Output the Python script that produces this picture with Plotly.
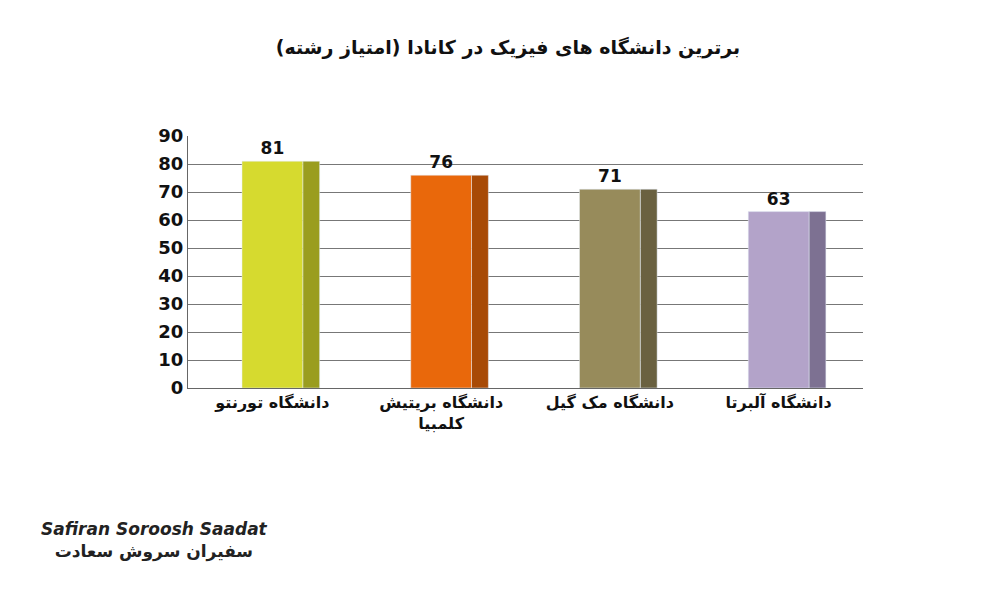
import plotly.graph_objects as go

universities = ["<b>دانشگاه تورنتو</b>", "<b>دانشگاه بریتیش<br>کلمبیا</b>", "<b>دانشگاه مک گیل</b>", "<b>دانشگاه آلبرتا</b>"]
scores = [81, 76, 71, 63]
front_colors = ["#d6da2f", "#e9680b", "#978b5b", "#b3a3c9"]
side_colors = ["#9a9d1f", "#a84a06", "#6a6140", "#7d7192"]
y_ticks = list(range(0, 100, 10))

fig = go.Figure()
# darker side faces for a faux 3D look
fig.add_trace(go.Bar(x=universities, y=scores, marker_color=side_colors,
                     width=0.1, offset=0.18, hoverinfo="skip", showlegend=False))
fig.add_trace(go.Bar(x=universities, y=scores, marker_color=front_colors,
                     width=0.36, offset=-0.18, text=[f"<b>{s}</b>" for s in scores],
                     textposition="outside",
                     textfont=dict(size=17, color="#111", family="DejaVu Sans"),
                     showlegend=False))

fig.update_layout(
    width=1000, height=600,
    plot_bgcolor="white", paper_bgcolor="white",
    margin=dict(l=180, r=145, t=128, b=220),
    barmode="overlay",
    title=dict(text="<b>برترین دانشگاه های فیزیک در کانادا (امتیاز رشته)</b>",
               x=0.5, y=0.935, yanchor="middle",
               font=dict(size=19, family="DejaVu Sans", color="#111")),
    font=dict(family="DejaVu Sans", color="#111"),
    xaxis=dict(showgrid=False, showline=True, linecolor="#666",
               tickfont=dict(size=16), ticks=""),
    yaxis=dict(range=[0, 90], tickvals=y_ticks, ticktext=[f"<b>{t}</b>" for t in y_ticks],
               showgrid=True, gridcolor="#777",
               showline=True, linecolor="#666", zeroline=False,
               tickfont=dict(size=18), ticksuffix="  "),
    annotations=[dict(text="<b><i>Safiran Soroosh Saadat</i></b><br><b>سفیران سروش سعادت</b>",
                      xref="paper", yref="paper", x=-0.05, y=-0.7, xanchor="center",
                      showarrow=False, font=dict(size=17, color="#222"))],
)

fig.write_html("out.html")
